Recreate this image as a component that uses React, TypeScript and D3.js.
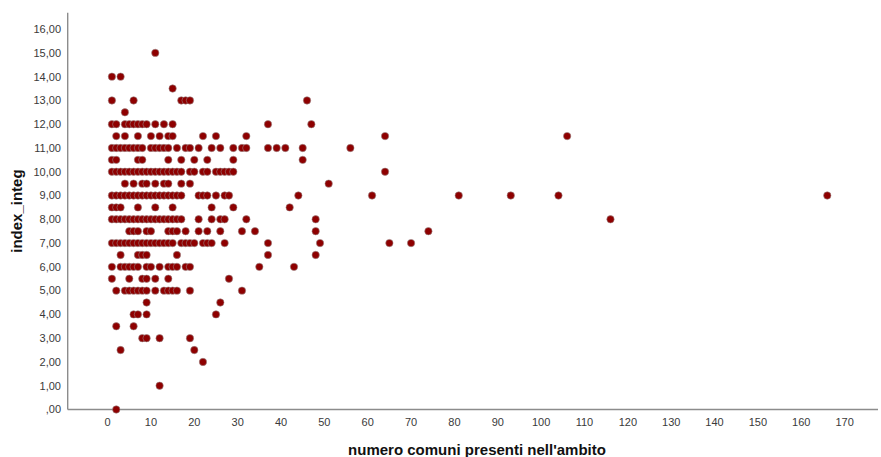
import React from "react";
import * as d3 from "d3";

// index_integ levels and the numbers of comuni observed at each level
const indexLevels = [15, 14, 13.5, 13, 12.5, 12, 11.5, 11, 10.5, 10, 9.5, 9, 8.5, 8, 7.5, 7, 6.5, 6, 5.5, 5, 4.5, 4, 3.5, 3, 2.5, 2, 1, 0];
const comuniAtLevel: number[][] = [
  [11],
  [1, 3],
  [15],
  [1, 6, 17, 18, 19, 46],
  [4],
  [1, 2, 4, 5, 6, 7, 8, 9, 11, 13, 15, 37, 47],
  [2, 4, 7, 10, 12, 14, 15, 22, 25, 32, 64, 106],
  [1, 2, 3, 4, 5, 6, 7, 8, 10, 11, 12, 13, 14, 16, 18, 19, 21, 24, 26, 29, 31, 32, 37, 39, 41, 45, 56],
  [1, 2, 7, 8, 14, 17, 20, 23, 29, 45],
  [1, 2, 3, 4, 5, 6, 7, 8, 9, 10, 11, 12, 13, 14, 15, 16, 17, 19, 20, 22, 23, 25, 26, 27, 28, 29, 64],
  [4, 6, 8, 9, 11, 13, 14, 17, 19, 51],
  [1, 2, 3, 4, 5, 6, 7, 8, 9, 10, 11, 12, 13, 14, 15, 16, 17, 21, 22, 23, 25, 27, 28, 44, 61, 81, 93, 104, 166],
  [1, 2, 3, 7, 11, 15, 24, 29, 42],
  [1, 2, 3, 4, 5, 6, 7, 8, 9, 10, 11, 12, 13, 14, 15, 16, 17, 21, 24, 26, 27, 32, 48, 116],
  [5, 6, 7, 9, 10, 14, 15, 16, 18, 21, 23, 26, 31, 34, 48, 74],
  [1, 2, 3, 4, 5, 6, 7, 8, 9, 10, 11, 12, 13, 14, 15, 17, 18, 19, 20, 22, 23, 24, 27, 37, 49, 65, 70],
  [3, 7, 8, 9, 16, 37, 48],
  [1, 3, 4, 5, 6, 7, 9, 10, 12, 14, 15, 16, 18, 19, 35, 43],
  [1, 5, 8, 9, 11, 14, 28],
  [2, 4, 5, 6, 7, 8, 9, 11, 13, 14, 15, 16, 19, 31],
  [9, 26],
  [6, 7, 9, 25],
  [2, 6],
  [8, 9, 12, 19],
  [3, 20],
  [22],
  [12],
  [2],
];

const xTicks = d3.range(0, 171, 10);
const yTicks = d3.range(0, 17, 1);

const xTitle = "numero comuni presenti nell'ambito";
const yTitle = "index_integ";

const W = 881;
const H = 457;

const fmtY = (v: number) => {
  const s = v.toFixed(2).replace(".", ",");
  return s.startsWith("0,") ? s.slice(1) : s;
};

export default function App() {
  const points = indexLevels.flatMap((lvl, i) =>
    comuniAtLevel[i].map((c) => ({ x: c, y: lvl }))
  );

  const left = 67.7;
  const right = 878;
  const bottom = 409.5;
  const top = 12.7;

  const x = d3.scaleLinear().domain([-9.2, 177.7]).range([left, right]);
  const y = d3.scaleLinear().domain([0, 16.69]).range([bottom, top]);

  const axisColor = "#8c8c8c";
  const font = "'Liberation Sans', Arial, sans-serif";

  return (
    <svg
      width={W}
      height={H}
      style={{ position: "absolute", left: 0, top: 0, background: "#fff" }}
      fontFamily={font}
    >
      {/* axis lines */}
      <line x1={left} x2={left} y1={top} y2={bottom} stroke={axisColor} strokeWidth={1.4} />
      <line x1={left} x2={right} y1={bottom} y2={bottom} stroke={axisColor} strokeWidth={1.4} />

      {/* y tick labels */}
      {yTicks.map((t) => (
        <text
          key={"y" + t}
          x={61}
          y={y(t)}
          dy="0.35em"
          textAnchor="end"
          fontSize={11}
          fill="#3a3a3a"
        >
          {fmtY(t)}
        </text>
      ))}

      {/* x tick labels */}
      {xTicks.map((t) => (
        <text
          key={"x" + t}
          x={x(t)}
          y={426}
          textAnchor="middle"
          fontSize={11}
          fill="#3a3a3a"
        >
          {t}
        </text>
      ))}

      {/* axis titles */}
      <text
        x={477}
        y={455}
        textAnchor="middle"
        fontSize={15}
        fontWeight="bold"
        fill="#111"
      >
        {xTitle}
      </text>
      <text
        transform={`translate(22, ${(top + bottom) / 2}) rotate(-90)`}
        textAnchor="middle"
        fontSize={15}
        fontWeight="bold"
        fill="#111"
      >
        {yTitle}
      </text>

      {/* points */}
      {points.map((p, i) => (
        <circle
          key={i}
          cx={x(p.x)}
          cy={y(p.y)}
          r={3.7}
          fill="#8e0000"
          stroke="#9a8a8a"
          strokeOpacity={0.7}
          strokeWidth={0.8}
        />
      ))}
    </svg>
  );
}
